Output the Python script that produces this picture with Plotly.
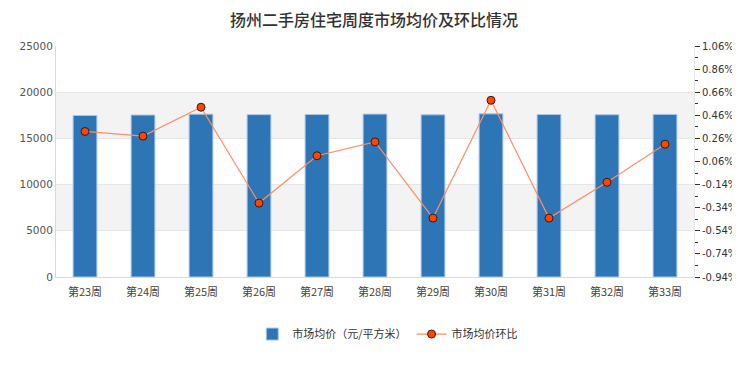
import plotly.graph_objects as go

weeks = ["第23周", "第24周", "第25周", "第26周", "第27周", "第28周", "第29周", "第30周", "第31周", "第32周", "第33周"]
avg_price = [17480, 17529, 17622, 17569, 17588, 17629, 17553, 17657, 17581, 17560, 17597]
ring_ratio = [0.32, 0.28, 0.53, -0.30, 0.11, 0.23, -0.43, 0.59, -0.43, -0.12, 0.21]
left_ticks = [0, 5000, 10000, 15000, 20000, 25000]
right_ticks = [-0.94, -0.74, -0.54, -0.34, -0.14, 0.06, 0.26, 0.46, 0.66, 0.86, 1.06]
right_labels = ["%.2f%%" % v for v in right_ticks]

fig = go.Figure()
fig.add_trace(go.Bar(
    x=weeks, y=avg_price, name="市场均价（元/平方米）",
    marker=dict(color="#2e75b6", line=dict(color="#a9c6e6", width=1)),
    width=0.41, yaxis="y",
))
fig.add_trace(go.Scatter(
    x=weeks, y=ring_ratio, name="市场均价环比", mode="lines+markers",
    line=dict(color="#ff8c66", width=1.2),
    marker=dict(color="#ff4500", size=8, line=dict(color="#3a1a10", width=1)),
    yaxis="y2",
))

shapes = []
for lo, hi in [(5000, 10000), (15000, 20000)]:
    shapes.append(dict(type="rect", xref="paper", yref="y", x0=0, x1=1, y0=lo, y1=hi,
                       fillcolor="#f3f3f3", line=dict(width=0), layer="below"))

fig.update_layout(
    width=732, height=354,
    margin=dict(l=48, r=46, t=38, b=85, autoexpand=False),
    paper_bgcolor="white", plot_bgcolor="white",
    font=dict(family="Noto Sans CJK SC, DejaVu Sans", size=11, color="#444"),
    title=dict(text="扬州二手房住宅周度市场均价及环比情况", x=0.5, xanchor="center",
               y=0.966, yanchor="middle", font=dict(size=16, color="#333", weight=500)),
    shapes=shapes,
    bargap=0.59,
    showlegend=True,
    legend=dict(orientation="h", x=0.52, xanchor="center", y=-0.247, yanchor="middle",
                font=dict(size=11, color="#333"), itemwidth=30),
    xaxis=dict(showgrid=False, showline=True, linecolor="#d9d9d9",
               ticks="outside", ticklen=5, tickcolor="rgba(0,0,0,0)",
               tickfont=dict(size=11, color="#444"), range=[-0.5, 10.5], automargin=False),
    yaxis=dict(range=[0, 25000], tickvals=left_ticks, tickformat="d", showgrid=True, gridcolor="#e6e6e6",
               showline=True, linecolor="#d9d9d9", zeroline=False, automargin=False,
               tickfont=dict(family="DejaVu Sans", size=10.5, color="#555")),
    yaxis2=dict(overlaying="y", side="right", range=[-0.94, 1.06],
                tickvals=right_ticks, ticktext=right_labels, automargin=False,
                showgrid=False, zeroline=False, showline=True, linecolor="#e6e6e6",
                ticks="outside", ticklen=5, tickcolor="#333",
                minor=dict(ticks="outside", ticklen=3, tickmode="linear", tick0=-0.94, dtick=0.1, tickcolor="#333"),
                tickfont=dict(family="DejaVu Sans", size=10, color="#333")),
)

fig.write_html("out.html")
